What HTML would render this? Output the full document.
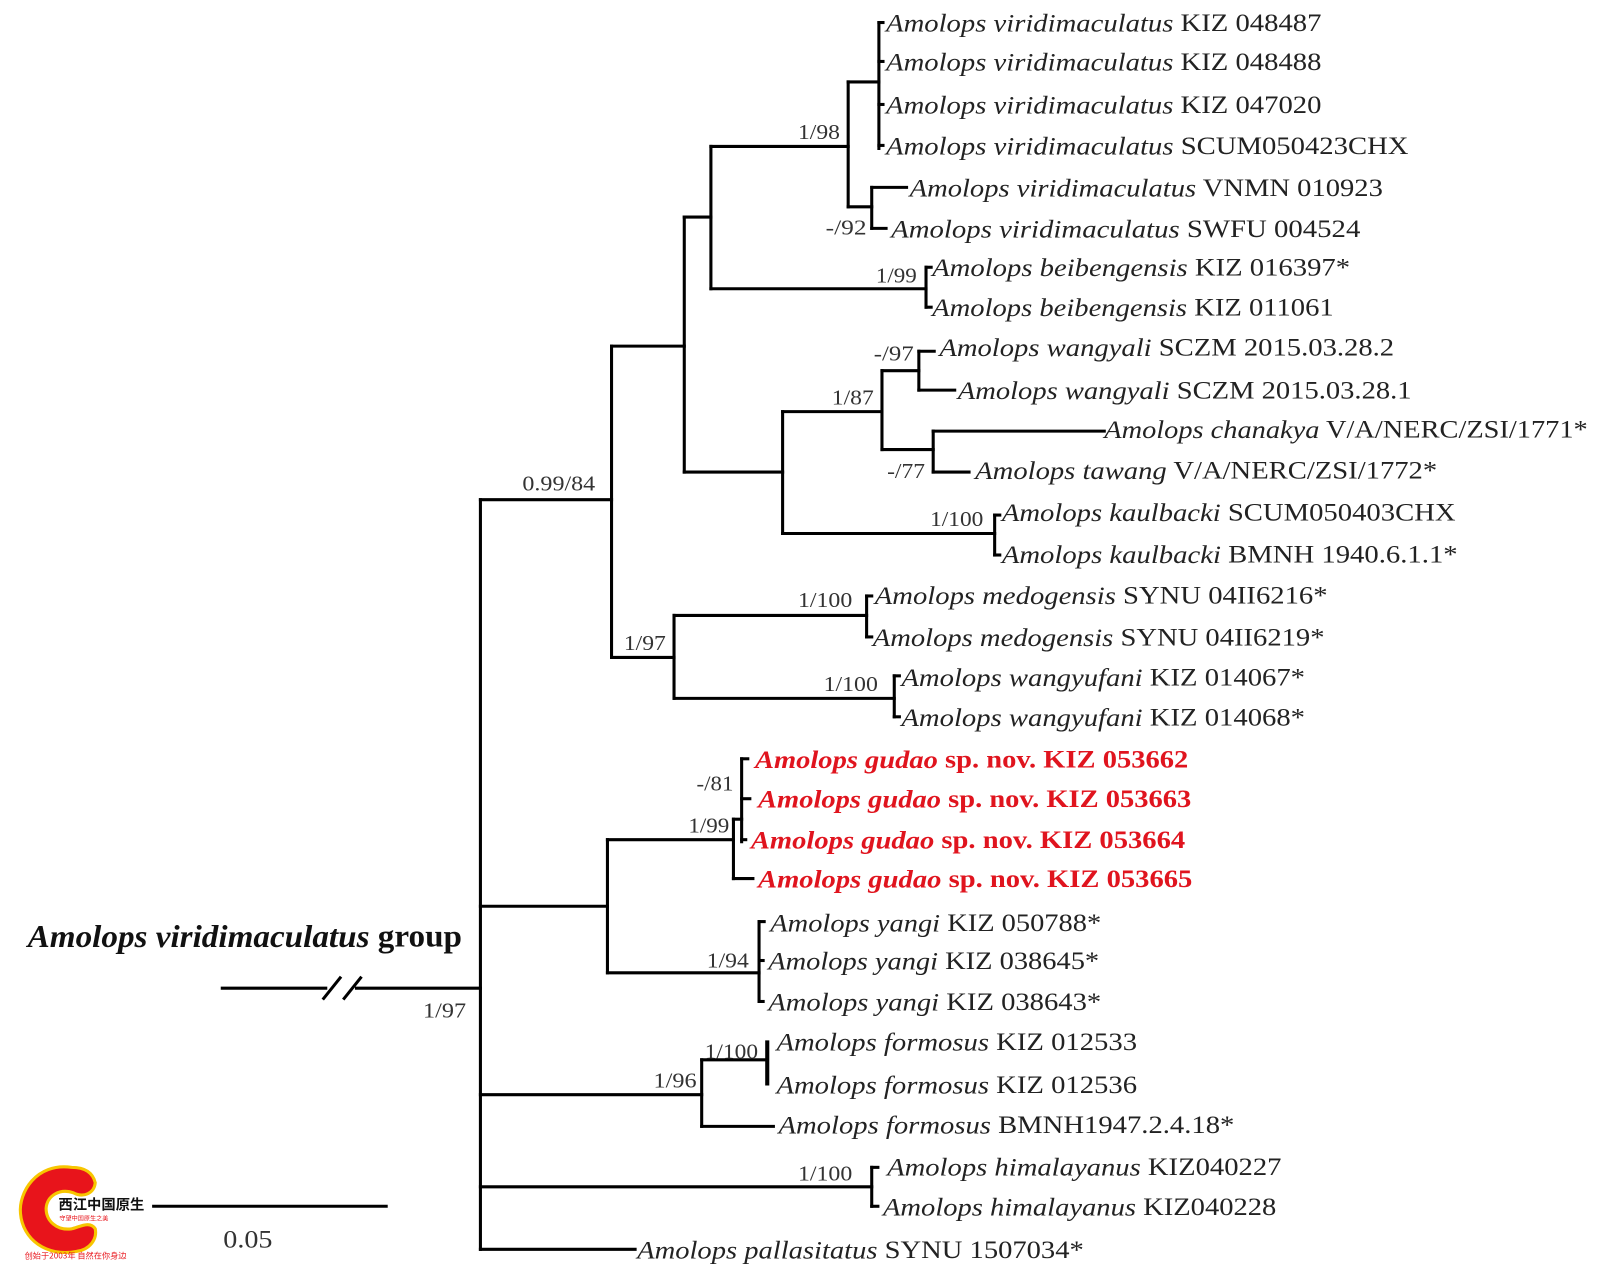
<!DOCTYPE html>
<html><head><meta charset="utf-8"><style>html,body{margin:0;padding:0;background:#fff}svg{display:block}text{font-family:"Liberation Serif","Times New Roman",serif}</style></head><body>
<svg width="1598" height="1280" viewBox="0 0 1560 1250" preserveAspectRatio="none" xmlns="http://www.w3.org/2000/svg">
<g stroke="#000" stroke-width="3" fill="none" stroke-linecap="square">
<line x1="217" y1="965" x2="318" y2="965"/><line x1="348" y1="965" x2="469" y2="965"/>
<line x1="316" y1="975" x2="332" y2="955"/><line x1="336" y1="975" x2="352" y2="955"/>
<line x1="469" y1="488" x2="469" y2="1220"/>
<line x1="469" y1="488" x2="597" y2="488"/>
<line x1="469" y1="885" x2="593" y2="885"/>
<line x1="469" y1="1069" x2="685" y2="1069"/>
<line x1="469" y1="1159" x2="851" y2="1159"/>
<line x1="469" y1="1220" x2="620" y2="1220"/>
<line x1="597" y1="338" x2="597" y2="642"/>
<line x1="597" y1="338" x2="668" y2="338"/><line x1="597" y1="642" x2="658" y2="642"/>
<line x1="668" y1="212" x2="668" y2="461"/>
<line x1="668" y1="212" x2="694" y2="212"/><line x1="668" y1="461" x2="764" y2="461"/>
<line x1="694" y1="143" x2="694" y2="282"/>
<line x1="694" y1="143" x2="828" y2="143"/><line x1="694" y1="282" x2="904" y2="282"/>
<line x1="828" y1="80" x2="828" y2="202"/>
<line x1="828" y1="80" x2="858" y2="80"/><line x1="828" y1="202" x2="851" y2="202"/>
<line x1="858" y1="22" x2="858" y2="145"/>
<line x1="858" y1="22" x2="862" y2="22"/><line x1="858" y1="60" x2="862" y2="60"/><line x1="858" y1="102" x2="862" y2="102"/><line x1="858" y1="142" x2="862" y2="142"/>
<line x1="851" y1="183" x2="851" y2="223"/>
<line x1="851" y1="183" x2="885" y2="183"/><line x1="851" y1="223" x2="865" y2="223"/>
<line x1="904" y1="261" x2="904" y2="300"/>
<line x1="904" y1="261" x2="909" y2="261"/><line x1="904" y1="300" x2="909" y2="300"/>
<line x1="764" y1="402" x2="764" y2="521"/>
<line x1="764" y1="402" x2="861" y2="402"/><line x1="764" y1="521" x2="971" y2="521"/>
<line x1="861" y1="362" x2="861" y2="439"/>
<line x1="861" y1="362" x2="897" y2="362"/><line x1="861" y1="439" x2="911" y2="439"/>
<line x1="897" y1="343" x2="897" y2="381"/>
<line x1="897" y1="343" x2="912" y2="343"/><line x1="897" y1="381" x2="932" y2="381"/>
<line x1="911" y1="421" x2="911" y2="461"/>
<line x1="911" y1="421" x2="1078" y2="421"/><line x1="911" y1="461" x2="946" y2="461"/>
<line x1="971" y1="503" x2="971" y2="542"/>
<line x1="971" y1="503" x2="976" y2="503"/><line x1="971" y1="542" x2="976" y2="542"/>
<line x1="658" y1="601" x2="658" y2="682"/>
<line x1="658" y1="601" x2="846" y2="601"/><line x1="658" y1="682" x2="873" y2="682"/>
<line x1="846" y1="582" x2="846" y2="622"/>
<line x1="846" y1="582" x2="851" y2="582"/><line x1="846" y1="622" x2="851" y2="622"/>
<line x1="873" y1="660" x2="873" y2="700"/>
<line x1="873" y1="660" x2="878" y2="660"/><line x1="873" y1="700" x2="878" y2="700"/>
<line x1="593" y1="820" x2="593" y2="950"/>
<line x1="593" y1="820" x2="716" y2="820"/><line x1="593" y1="950" x2="741" y2="950"/>
<line x1="716" y1="800" x2="716" y2="858"/>
<line x1="716" y1="800" x2="724" y2="800"/><line x1="716" y1="858" x2="735" y2="858"/>
<line x1="724" y1="741" x2="724" y2="822"/>
<line x1="724" y1="741" x2="730" y2="741"/><line x1="724" y1="780" x2="732" y2="780"/><line x1="724" y1="820" x2="728" y2="820"/>
<line x1="741" y1="900" x2="741" y2="978"/>
<line x1="741" y1="900" x2="746" y2="900"/><line x1="741" y1="938" x2="745" y2="938"/><line x1="741" y1="978" x2="745" y2="978"/>
<line x1="685" y1="1035" x2="685" y2="1100"/>
<line x1="685" y1="1035" x2="749" y2="1035"/><line x1="685" y1="1100" x2="755" y2="1100"/>
<line x1="749" y1="1018" x2="749" y2="1058" stroke-width="4"/>
<line x1="851" y1="1140" x2="851" y2="1178"/>
<line x1="851" y1="1140" x2="857" y2="1140"/><line x1="851" y1="1178" x2="857" y2="1178"/>
<line x1="150" y1="1178" x2="377" y2="1178"/>
</g>
<g font-size="25" fill="#222" dominant-baseline="central">
<text x="865" y="22" textLength="425" lengthAdjust="spacingAndGlyphs"><tspan font-style="italic">Amolops viridimaculatus</tspan> KIZ 048487</text>
<text x="865" y="60" textLength="425" lengthAdjust="spacingAndGlyphs"><tspan font-style="italic">Amolops viridimaculatus</tspan> KIZ 048488</text>
<text x="865" y="102" textLength="425" lengthAdjust="spacingAndGlyphs"><tspan font-style="italic">Amolops viridimaculatus</tspan> KIZ 047020</text>
<text x="865" y="142" textLength="510" lengthAdjust="spacingAndGlyphs"><tspan font-style="italic">Amolops viridimaculatus</tspan> SCUM050423CHX</text>
<text x="888" y="183" textLength="462" lengthAdjust="spacingAndGlyphs"><tspan font-style="italic">Amolops viridimaculatus</tspan> VNMN 010923</text>
<text x="870" y="223" textLength="458" lengthAdjust="spacingAndGlyphs"><tspan font-style="italic">Amolops viridimaculatus</tspan> SWFU 004524</text>
<text x="910" y="261" textLength="408" lengthAdjust="spacingAndGlyphs"><tspan font-style="italic">Amolops beibengensis</tspan> KIZ 016397*</text>
<text x="910" y="300" textLength="392" lengthAdjust="spacingAndGlyphs"><tspan font-style="italic">Amolops beibengensis</tspan> KIZ 011061</text>
<text x="917" y="339" textLength="444" lengthAdjust="spacingAndGlyphs"><tspan font-style="italic">Amolops wangyali</tspan> SCZM 2015.03.28.2</text>
<text x="935" y="381" textLength="443" lengthAdjust="spacingAndGlyphs"><tspan font-style="italic">Amolops wangyali</tspan> SCZM 2015.03.28.1</text>
<text x="1078" y="419" textLength="472" lengthAdjust="spacingAndGlyphs"><tspan font-style="italic">Amolops chanakya</tspan> V/A/NERC/ZSI/1771*</text>
<text x="952" y="459" textLength="451" lengthAdjust="spacingAndGlyphs"><tspan font-style="italic">Amolops tawang</tspan> V/A/NERC/ZSI/1772*</text>
<text x="978" y="500" textLength="443" lengthAdjust="spacingAndGlyphs"><tspan font-style="italic">Amolops kaulbacki</tspan> SCUM050403CHX</text>
<text x="978" y="541" textLength="445" lengthAdjust="spacingAndGlyphs"><tspan font-style="italic">Amolops kaulbacki</tspan> BMNH 1940.6.1.1*</text>
<text x="854" y="581" textLength="442" lengthAdjust="spacingAndGlyphs"><tspan font-style="italic">Amolops medogensis</tspan> SYNU 04II6216*</text>
<text x="852" y="622" textLength="441" lengthAdjust="spacingAndGlyphs"><tspan font-style="italic">Amolops medogensis</tspan> SYNU 04II6219*</text>
<text x="880" y="661" textLength="394" lengthAdjust="spacingAndGlyphs"><tspan font-style="italic">Amolops wangyufani</tspan> KIZ 014067*</text>
<text x="880" y="700" textLength="394" lengthAdjust="spacingAndGlyphs"><tspan font-style="italic">Amolops wangyufani</tspan> KIZ 014068*</text>
<g fill="#e0141e" font-weight="bold">
<text x="737" y="741" textLength="423" lengthAdjust="spacingAndGlyphs"><tspan font-style="italic">Amolops gudao</tspan> sp. nov. KIZ 053662</text>
<text x="740" y="780" textLength="423" lengthAdjust="spacingAndGlyphs"><tspan font-style="italic">Amolops gudao</tspan> sp. nov. KIZ 053663</text>
<text x="733" y="820" textLength="424" lengthAdjust="spacingAndGlyphs"><tspan font-style="italic">Amolops gudao</tspan> sp. nov. KIZ 053664</text>
<text x="740" y="858" textLength="424" lengthAdjust="spacingAndGlyphs"><tspan font-style="italic">Amolops gudao</tspan> sp. nov. KIZ 053665</text>
</g>
<text x="752" y="901" textLength="323" lengthAdjust="spacingAndGlyphs"><tspan font-style="italic">Amolops yangi</tspan> KIZ 050788*</text>
<text x="750" y="938" textLength="323" lengthAdjust="spacingAndGlyphs"><tspan font-style="italic">Amolops yangi</tspan> KIZ 038645*</text>
<text x="750" y="978" textLength="325" lengthAdjust="spacingAndGlyphs"><tspan font-style="italic">Amolops yangi</tspan> KIZ 038643*</text>
<text x="758" y="1017" textLength="352" lengthAdjust="spacingAndGlyphs"><tspan font-style="italic">Amolops formosus</tspan> KIZ 012533</text>
<text x="758" y="1059" textLength="352" lengthAdjust="spacingAndGlyphs"><tspan font-style="italic">Amolops formosus</tspan> KIZ 012536</text>
<text x="760" y="1098" textLength="445" lengthAdjust="spacingAndGlyphs"><tspan font-style="italic">Amolops formosus</tspan> BMNH1947.2.4.18*</text>
<text x="866" y="1139" textLength="385" lengthAdjust="spacingAndGlyphs"><tspan font-style="italic">Amolops himalayanus</tspan> KIZ040227</text>
<text x="862" y="1178" textLength="384" lengthAdjust="spacingAndGlyphs"><tspan font-style="italic">Amolops himalayanus</tspan> KIZ040228</text>
<text x="622" y="1220" textLength="436" lengthAdjust="spacingAndGlyphs"><tspan font-style="italic">Amolops pallasitatus</tspan> SYNU 1507034*</text>
</g>
<g font-size="21" fill="#333" dominant-baseline="central">
<text x="779" y="129" textLength="41" lengthAdjust="spacingAndGlyphs">1/98</text>
<text x="806" y="222" textLength="40" lengthAdjust="spacingAndGlyphs">-/92</text>
<text x="855" y="269" textLength="40" lengthAdjust="spacingAndGlyphs">1/99</text>
<text x="853" y="345" textLength="39" lengthAdjust="spacingAndGlyphs">-/97</text>
<text x="812" y="388" textLength="41" lengthAdjust="spacingAndGlyphs">1/87</text>
<text x="866" y="460" textLength="37" lengthAdjust="spacingAndGlyphs">-/77</text>
<text x="908" y="507" textLength="52" lengthAdjust="spacingAndGlyphs">1/100</text>
<text x="510" y="472" textLength="71" lengthAdjust="spacingAndGlyphs">0.99/84</text>
<text x="779" y="586" textLength="53" lengthAdjust="spacingAndGlyphs">1/100</text>
<text x="609" y="628" textLength="41" lengthAdjust="spacingAndGlyphs">1/97</text>
<text x="804" y="668" textLength="53" lengthAdjust="spacingAndGlyphs">1/100</text>
<text x="680" y="765" textLength="36" lengthAdjust="spacingAndGlyphs">-/81</text>
<text x="672" y="806" textLength="40" lengthAdjust="spacingAndGlyphs">1/99</text>
<text x="690" y="938" textLength="41" lengthAdjust="spacingAndGlyphs">1/94</text>
<text x="413" y="987" textLength="42" lengthAdjust="spacingAndGlyphs">1/97</text>
<text x="688" y="1027" textLength="52" lengthAdjust="spacingAndGlyphs">1/100</text>
<text x="638" y="1055" textLength="42" lengthAdjust="spacingAndGlyphs">1/96</text>
<text x="779" y="1146" textLength="53" lengthAdjust="spacingAndGlyphs">1/100</text>
</g>
<text x="27" y="914" font-size="31" font-weight="bold" fill="#111" dominant-baseline="central" textLength="424" lengthAdjust="spacingAndGlyphs"><tspan font-style="italic">Amolops viridimaculatus</tspan> group</text>
<text x="218" y="1210" font-size="25" fill="#333" dominant-baseline="central" textLength="48" lengthAdjust="spacingAndGlyphs">0.05</text>
<g>
<path d="M 70 1140 C 35 1135 18 1165 20 1185 C 22 1210 45 1228 75 1222 C 88 1220 95 1210 93 1200 C 88 1192 78 1198 70 1200 C 55 1202 45 1192 45 1180 C 46 1168 58 1160 72 1165 C 82 1170 92 1165 93 1155 C 90 1143 80 1140 70 1140 Z" fill="#e8141b" stroke="#f7c600" stroke-width="3"/>
<text x="57" y="1181" style="font-family:'Noto Sans CJK SC',sans-serif" font-size="14" font-weight="bold" fill="#111">西江中国原生</text>
<text x="58" y="1192" style="font-family:'Noto Sans CJK SC',sans-serif" font-size="6" fill="#e8141b">守望中国原生之美</text>
<text x="24" y="1229" style="font-family:'Noto Sans CJK SC',sans-serif" font-size="8" fill="#e8141b">创始于2003年 自然在你身边</text>
</g>
</svg>
</body></html>
